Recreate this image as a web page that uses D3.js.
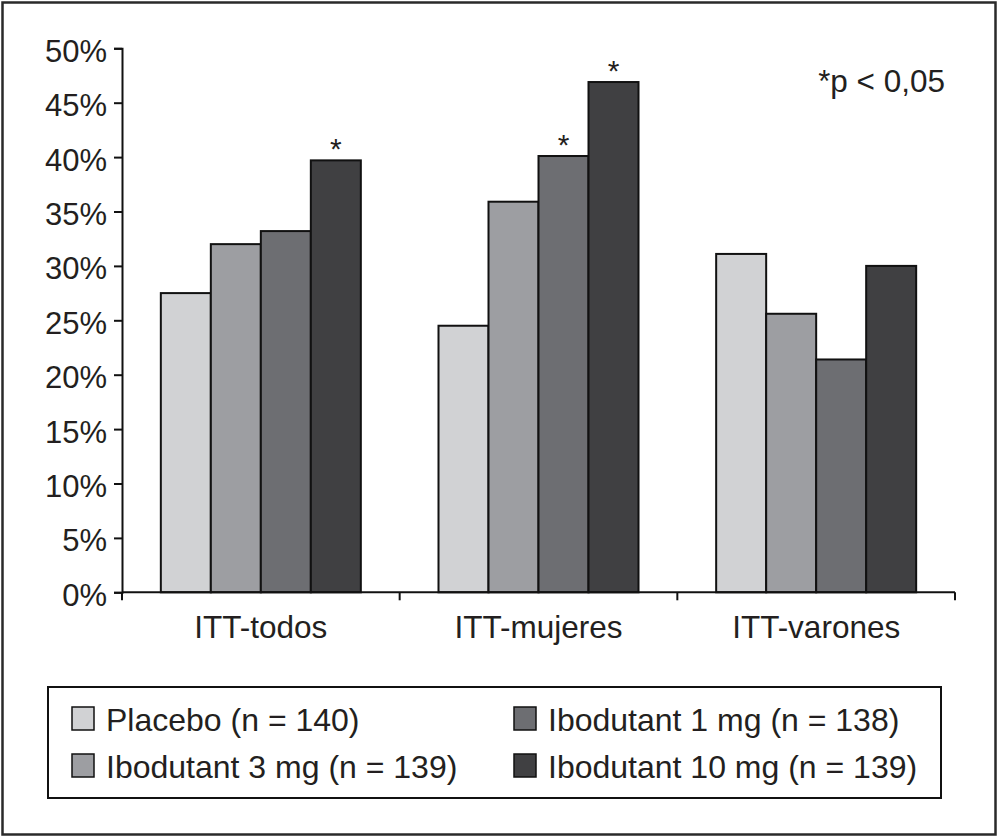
<!DOCTYPE html>
<html>
<head>
<meta charset="utf-8">
<script src="https://cdn.jsdelivr.net/npm/d3@7"></script>
<style>
  html, body { margin: 0; padding: 0; background: #fff; }
  svg { display: block; font-family: "Liberation Sans", Arial, Helvetica, sans-serif; }
</style>
</head>
<body>
<svg id="chart" width="999" height="838"></svg>
<script>
const categories = ["ITT-todos", "ITT-mujeres", "ITT-varones"];
const seriesNames = ["Placebo (n = 140)", "Ibodutant 3 mg (n = 139)", "Ibodutant 1 mg (n = 138)", "Ibodutant 10 mg (n = 139)"];
const placebo = [27.5, 24.5, 31.1];
const ibo3 = [32.0, 35.9, 25.6];
const ibo1 = [33.2, 40.1, 21.4];
const ibo10 = [39.7, 46.9, 30.0];
const significant = [[false, false, false, true], [false, false, true, true], [false, false, false, false]];
const yTicks = [0, 5, 10, 15, 20, 25, 30, 35, 40, 45, 50];
const colors = ["#d1d2d4", "#9d9ea2", "#6d6e72", "#404042"];
const legendOrder = [0, 2, 1, 3]; // Placebo, 1 mg / 3 mg, 10 mg

(function () {
const seriesValues = [placebo, ibo3, ibo1, ibo10];
const ink = "#231f20";

const svg = d3.select("#chart");

// outer frame
svg.append("rect").attr("x", 2.5).attr("y", 2.5).attr("width", 993).attr("height", 832)
  .attr("fill", "#fff").attr("stroke", "#2a2a2a").attr("stroke-width", 2.5);

const pLeft = 122, pRight = 955, pTop = 48.3, pBottom = 592.3;

const y = d3.scaleLinear().domain([0, 50]).range([pBottom, pTop]);
const x0 = d3.scaleBand().domain(categories).range([pLeft, pRight]).paddingInner(0).paddingOuter(0);
const barW = 50;
const pOuter = (x0.bandwidth() / barW - seriesNames.length) / 2;
const x1 = d3.scaleBand().domain(d3.range(seriesNames.length)).range([0, x0.bandwidth()])
  .paddingInner(0).paddingOuter(pOuter);

// bars
const g = svg.append("g");
categories.forEach((cat, ci) => {
  seriesValues.forEach((vals, si) => {
    g.append("rect")
      .attr("x", x0(cat) + x1(si))
      .attr("y", y(vals[ci]))
      .attr("width", x1.bandwidth())
      .attr("height", y(0) - y(vals[ci]))
      .attr("fill", colors[si])
      .attr("stroke", "#111")
      .attr("stroke-width", 2);
    if (significant[ci][si]) {
      g.append("text")
        .attr("x", x0(cat) + x1(si) + x1.bandwidth() / 2)
        .attr("y", y(vals[ci]) - 1)
        .attr("text-anchor", "middle")
        .attr("font-size", 30)
        .attr("fill", ink)
        .text("*");
    }
  });
});

// y axis
const yAxis = svg.append("g").attr("transform", `translate(${pLeft},0)`)
  .call(d3.axisLeft(y).tickValues(yTicks).tickSize(8).tickPadding(7).tickFormat(d => d + "%"));
yAxis.select(".domain").attr("stroke", "#111").attr("stroke-width", 2);
yAxis.selectAll(".tick line").attr("stroke", "#111").attr("stroke-width", 2);
yAxis.selectAll(".tick text").attr("font-size", 31).attr("fill", ink)
  .attr("font-family", "'Liberation Sans', Arial, sans-serif").attr("dy", "0.42em");

// x axis
const xAxis = svg.append("g").attr("transform", `translate(0,${pBottom})`)
  .call(d3.axisBottom(x0).tickSize(0).tickPadding(0));
xAxis.select(".domain").remove();
svg.append("line").attr("x1", pLeft).attr("x2", pRight).attr("y1", pBottom).attr("y2", pBottom)
  .attr("stroke", "#111").attr("stroke-width", 2);
const boundaries = categories.map(c => x0(c)).concat([pRight]);
svg.selectAll(".xb").data(boundaries).enter().append("line")
  .attr("x1", d => d).attr("x2", d => d).attr("y1", pBottom).attr("y2", pBottom + 8)
  .attr("stroke", "#111").attr("stroke-width", 2);
xAxis.selectAll(".tick text").attr("font-size", 31.5).attr("fill", ink)
  .attr("font-family", "'Liberation Sans', Arial, sans-serif")
  .attr("dy", 0).attr("y", 46);

// p note
const note = svg.append("text").attr("x", 945).attr("y", 92).attr("text-anchor", "end")
  .attr("font-size", 31.5).attr("fill", ink);
note.append("tspan").attr("font-size", 31).text("*");
note.append("tspan").text("p < 0,05");

// legend
svg.append("rect").attr("x", 48).attr("y", 687).attr("width", 893).attr("height", 111)
  .attr("fill", "#fff").attr("stroke", "#111").attr("stroke-width", 2);
const legPos = [[72, 707], [514, 707], [72, 754], [514, 754]];
legendOrder.forEach((si, i) => {
  const [lx, ly] = legPos[i];
  svg.append("rect").attr("x", lx).attr("y", ly).attr("width", 22).attr("height", 23)
    .attr("fill", colors[si]).attr("stroke", "#111").attr("stroke-width", 1.5);
  svg.append("text").attr("x", lx + 34).attr("y", ly + 24)
    .attr("font-size", 32).attr("fill", ink).text(seriesNames[si]);
});
})();
</script>
</body>
</html>
